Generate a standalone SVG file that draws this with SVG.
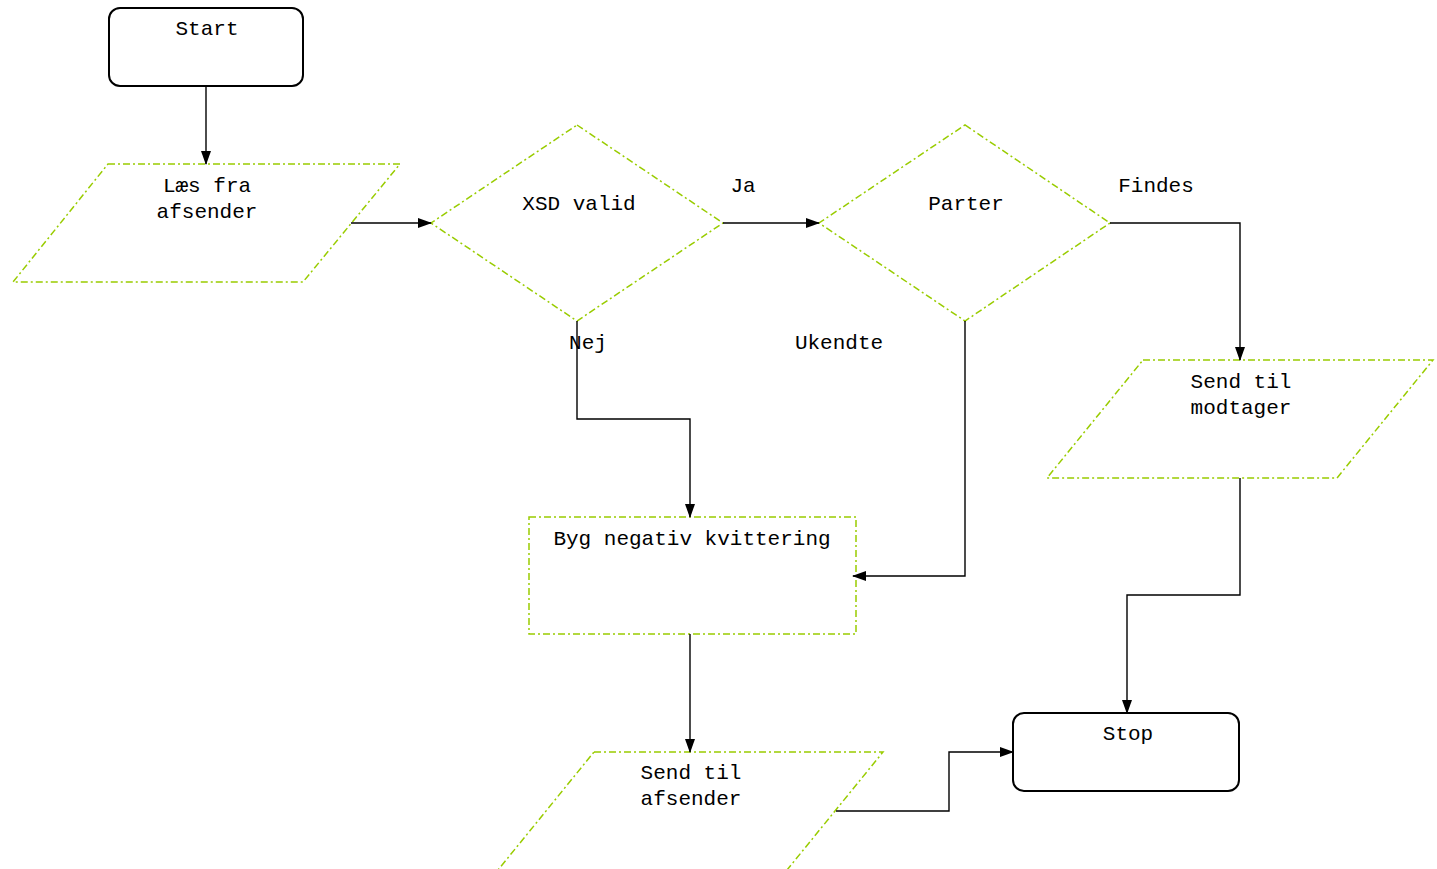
<svg xmlns="http://www.w3.org/2000/svg" width="1437" height="869" viewBox="0 0 1437 869">
<style>
.term{fill:#fff;stroke:#000;stroke-width:2}
.shape{fill:#fff;stroke:#99cc00;stroke-width:1.5;stroke-dasharray:7 3 2 3}
.conn{fill:none;stroke:#000;stroke-width:1.4}
text{font-family:"Liberation Mono","Courier New",monospace;font-size:21px;fill:#000;text-anchor:middle}
</style>
<defs>
<marker id="ah" markerWidth="14" markerHeight="10" refX="13" refY="5" orient="auto" markerUnits="userSpaceOnUse">
<path d="M0,0 L14,5 L0,10 z" fill="#000"/>
</marker>
</defs>
<g id="start"><rect class="term" x="109" y="8" width="194" height="78" rx="11"/><text x="207" y="35">Start</text></g>
<g id="laes"><polygon class="shape" points="108,164 400,164 303,282 13,282"/><text x="207" y="192">Læs fra</text><text x="207" y="218">afsender</text></g>
<g id="xsd"><polygon class="shape" points="577,125 723,223 577,321 431,223"/><text x="579" y="210">XSD valid</text></g>
<g id="parter"><polygon class="shape" points="965,125 1110,223 965,321 819,223"/><text x="966" y="210">Parter</text></g>
<g id="modtager"><polygon class="shape" points="1143,360 1433,360 1337,478 1047,478"/><text x="1241" y="388">Send til</text><text x="1241" y="414">modtager</text></g>
<g id="byg"><rect class="shape" x="529" y="517" width="327" height="117"/><text x="692" y="545">Byg negativ kvittering</text></g>
<g id="afsender"><polygon class="shape" points="594,752 883,752 787,870 498,870"/><text x="691" y="779">Send til</text><text x="691" y="805">afsender</text></g>
<g id="stop"><rect class="term" x="1013" y="713" width="226" height="78" rx="11"/><text x="1128" y="740">Stop</text></g>
<g id="connectors">
<path class="conn" marker-end="url(#ah)" d="M206,86 V164"/>
<path class="conn" marker-end="url(#ah)" d="M351,223 H431"/>
<path class="conn" marker-end="url(#ah)" d="M723,223 H819"/>
<path class="conn" marker-end="url(#ah)" d="M1110,223 H1240 V360"/>
<path class="conn" marker-end="url(#ah)" d="M1240,478 V595 H1127 V713"/>
<path class="conn" marker-end="url(#ah)" d="M577,321 V419 H690 V517"/>
<path class="conn" marker-end="url(#ah)" d="M965,321 V576 H853"/>
<path class="conn" marker-end="url(#ah)" d="M690,634 V752"/>
<path class="conn" marker-end="url(#ah)" d="M836,811 H949 V752 H1013"/>
<text x="743" y="192">Ja</text>
<text x="1156" y="192">Findes</text>
<text x="588" y="349">Nej</text>
<text x="839" y="349">Ukendte</text>
</g>
</svg>
